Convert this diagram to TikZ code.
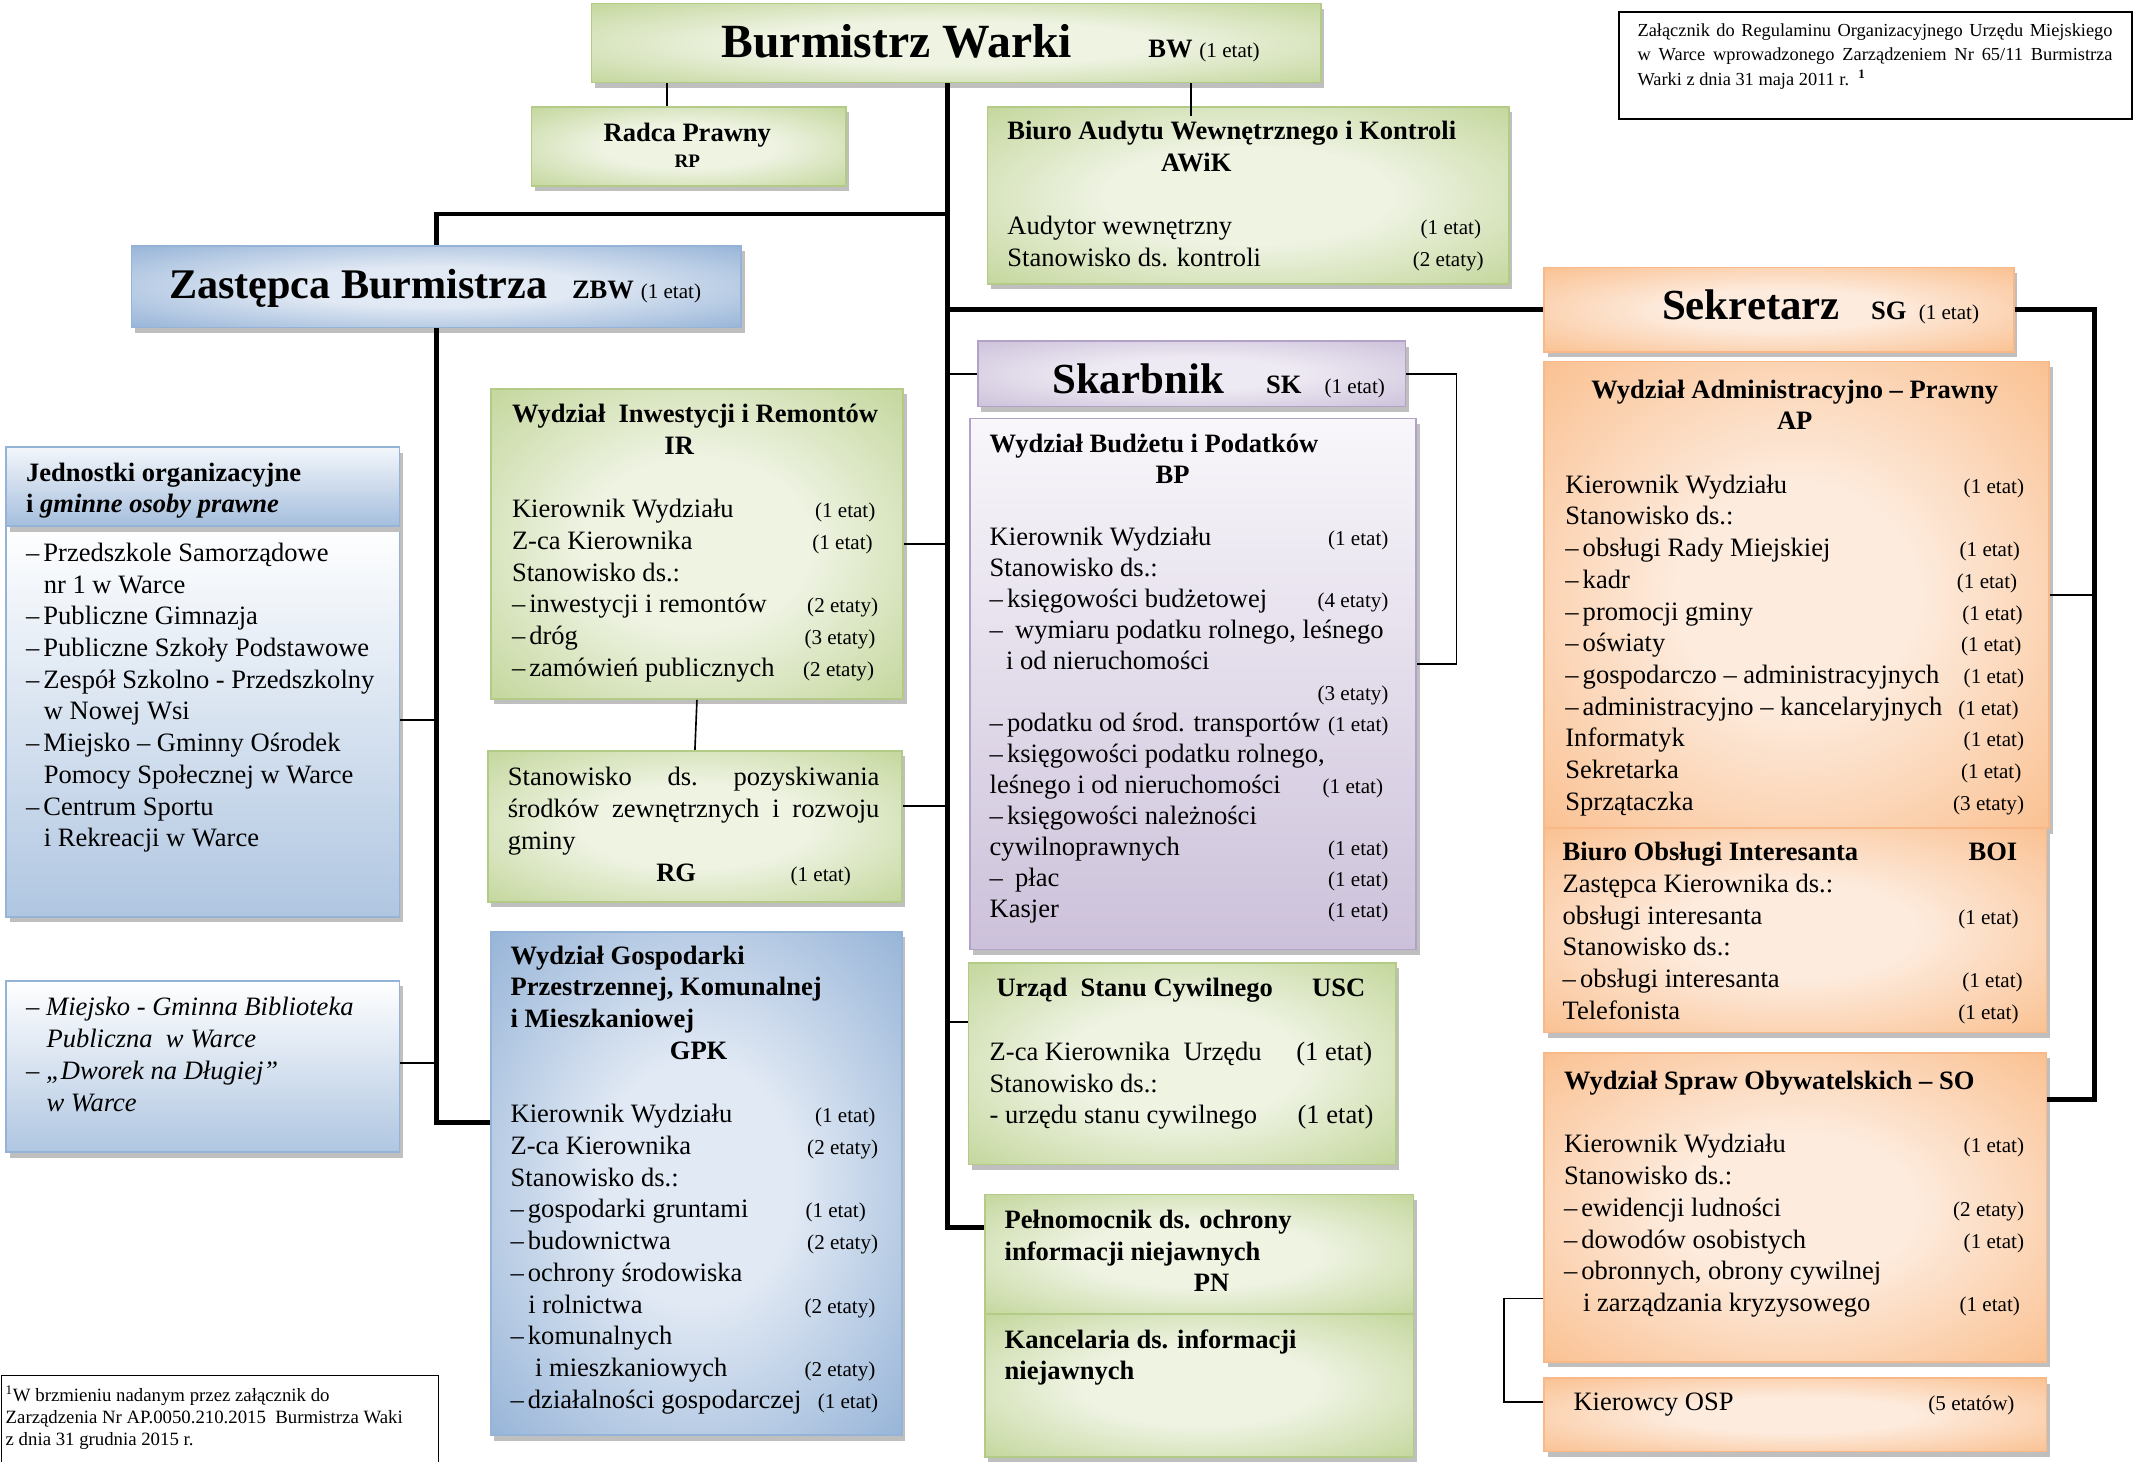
\documentclass[tikz,border=0pt]{standalone}
\usepackage{fontspec}
\setmainfont{Liberation Serif}
\usetikzlibrary{calc,shadows}
\definecolor{gL}{HTML}{EEF3E2}\definecolor{gD}{HTML}{C3D69B}\definecolor{gB}{HTML}{B3CB86}
\definecolor{bL}{HTML}{E1E9F4}\definecolor{bD}{HTML}{95B3D7}\definecolor{bB}{HTML}{95B3D7}
\definecolor{oL}{HTML}{FDEBDD}\definecolor{oD}{HTML}{FAC090}\definecolor{oB}{HTML}{F8B888}
\definecolor{pL}{HTML}{EEEAF3}\definecolor{pD}{HTML}{CCC1DA}\definecolor{pB}{HTML}{B3A2C7}
\pgfdeclareradialshading{gshade}{\pgfpoint{0bp}{0bp}}{color(0bp)=(gL); color(14bp)=(gL); color(36bp)=(gD); color(50bp)=(gD)}
\pgfdeclareradialshading{bshade}{\pgfpoint{0bp}{0bp}}{color(0bp)=(bL); color(12bp)=(bL); color(36bp)=(bD); color(50bp)=(bD)}
\pgfdeclareradialshading{oshade}{\pgfpoint{0bp}{0bp}}{color(0bp)=(oL); color(12bp)=(oL); color(36bp)=(oD); color(50bp)=(oD)}
\pgfdeclareradialshading{pshade}{\pgfpoint{0bp}{0bp}}{color(0bp)=(pL); color(12bp)=(pL); color(36bp)=(pD); color(50bp)=(pD)}
\newlength\rw
\newcommand\setrw[1]{\global\rw=#1pt\relax}
\newcommand\bodyf{\fontsize{19.5}{23.3}\selectfont}
\newcommand\etf{\fontsize{15.5}{18}\selectfont}
\newcommand\erow[2]{\hbox to \rw{\strut#1\hfil{\etf#2}}}
\newcommand\brow[2]{\hbox to \rw{\strut#1\hfil#2}}
\newcommand\frow[1]{\hbox{\strut#1}}
\newcommand\dsh{\textendash\kern3pt}
\newcommand\ind[1]{\hspace*{#1pt}}
\tikzset{
  bx/.style={rectangle, inner sep=0pt, anchor=north west, line width=1.2pt,
    drop shadow={shadow xshift=2.5pt, shadow yshift=-4pt, fill=black!25, opacity=1}},
  gbx/.style={bx, draw=gB, shade, shading=gshade},
  bbx/.style={bx, draw=bB, shade, shading=bshade},
  obx/.style={bx, draw=oB, shade, shading=oshade},
  pbx/.style={bx, draw=pB, shade, shading=pshade},
  vbx/.style={bx, draw=bB, top color=white, bottom color=bD!75!white},
  hbx/.style={bx, draw=bB, top color=bL!40!white, bottom color=bD!85!white},
  vpbx/.style={bx, draw=pB, top color=pL!40!white, bottom color=pD},
  txt/.style={anchor=north west, inner sep=0pt, align=left, font=\bodyf},
  ttl/.style={anchor=base west, inner sep=0pt, font=\bodyf},
  thk/.style={line width=3.5pt},
  thn/.style={line width=1.2pt},
}
\begin{document}
\begin{tikzpicture}[x=1pt,y=-1pt]
\useasboundingbox (0,0) rectangle (1568,1074);
\fill[white] (0,0) rectangle (1568,1074);
% boxes
\node[gbx, minimum width=536pt, minimum height=58pt] (bw) at (434,2) {};
\node[gbx, minimum width=231pt, minimum height=58pt] (rp) at (390,78) {};
\node[gbx, minimum width=383pt, minimum height=130pt] (aw) at (725,78) {};
\node[bbx, minimum width=448pt, minimum height=60pt] (zbw) at (96,180) {};
\node[obx, minimum width=345pt, minimum height=62pt] (sg) at (1134,196) {};
\node[pbx, minimum width=314pt, minimum height=48pt] (sk) at (718,250) {};
\node[gbx, minimum width=303pt, minimum height=228pt] (ir) at (360,285) {};
\node[gbx, minimum width=304pt, minimum height=111pt] (rg) at (358,551) {};
\node[vbx, minimum width=289pt, minimum height=287pt] (jb) at (4,386) {};
\node[hbx, minimum width=289pt, minimum height=58pt] (jh) at (4,328) {};
\node[vbx, minimum width=289pt, minimum height=126pt] (bib) at (4,720) {};
\node[vpbx, minimum width=328pt, minimum height=390pt] (bp) at (712,307) {};
\node[bbx, minimum width=302pt, minimum height=370pt] (gpk) at (360,684) {};
\node[gbx, minimum width=314pt, minimum height=148pt] (usc) at (711,707) {};
\node[gbx, minimum width=315pt, minimum height=88pt] (pn) at (723,877) {};
\node[gbx, minimum width=315pt, minimum height=105pt] (kan) at (723,965) {};
\node[obx, minimum width=371pt, minimum height=343pt] (ap) at (1134,265) {};
\node[obx, minimum width=369pt, minimum height=150pt] (boi) at (1134,608) {};
\node[obx, minimum width=369pt, minimum height=227pt] (so) at (1134,773) {};
\node[obx, minimum width=369pt, minimum height=54pt] (osp) at (1134,1012) {};
\node[draw, line width=1.2pt, anchor=north west, inner sep=0pt, minimum width=377pt, minimum height=79pt] (note) at (1189,8) {};
\node[draw, line width=1.2pt, anchor=north west, inner sep=0pt, minimum width=321pt, minimum height=80pt] (fnb) at (0.6,1010) {};
% connector helper x positions
\coordinate (tx) at (696,0);
\coordinate (sx) at (1538,0);
% connectors
\draw[thn] ($(bw.south west)+(56,0)$) -- ($(rp.north west)+(100,0)$);
\draw[thn] ($(bw.south west)+(441,0)$) -- ($(aw.north west)+(150,7)$);
\draw[thk] (bw.south -| tx) |- ($(pn.north west)+(0,25)$);
\draw[thk] ($(bw.south -| tx)+(0,96)$) -| (zbw.north);
\draw[thk] (sg.west -| tx) -- (sg.west);
\draw[thn] (sk.west -| tx) -- (sk.west);
\draw[thn] (ir.east) -- (ir.east -| tx);
\draw[thn] ($(rg.north east)+(0,41)$) -- ($(rg.north east -| tx)+(0,41)$);
\draw[thn] (ir.south) -- (rg.north);
\draw[thn] ($(usc.north west)+(0,44)$) -- ($(usc.north west -| tx)+(0,44)$);
\draw[thn] (sk.east) -| ($(bp.north east)+(29,181)$) -- ($(bp.north east)+(0,181)$);
\draw[thk] (sg.east) -| ($(so.north east)+(35,35)$) -- ($(so.north east)+(0,35)$);
\draw[thn] (ap.east) -- (ap.east -| sx);
\draw[thn] ($(so.south west)+(0,-47)$) -- ++(-29,0) |- ($(osp.north west)+(0,18)$);
\draw[thk] (zbw.south) |- ($(gpk.north west)+(0,141)$);
\draw[thn] ($(jb.north east)+(0,143)$) -- ($(jb.north east -| zbw.south)+(0,143)$);
\draw[thn] ($(bib.north east)+(0,61)$) -- ($(bib.north east -| zbw.south)+(0,61)$);
% titles
\node[ttl] (bwt) at (530,42) {{\fontsize{35}{40}\selectfont\bfseries Burmistrz Warki}\hspace*{56pt}{\bfseries BW}\hspace*{5pt}{\etf (1 etat)}};
\node[anchor=base, inner sep=0pt, font=\bodyf\bfseries] (rpt) at (505,104) {Radca Prawny};
\node[anchor=base, inner sep=0pt, font=\fontsize{14}{16}\selectfont\bfseries] (rpc) at (505,123) {RP};
\node[ttl] (zbwt) at (124,219) {{\fontsize{31}{36}\selectfont\bfseries Zastępca Burmistrza}\hspace*{18pt}{\bfseries ZBW}\hspace*{5pt}{\etf (1 etat)}};
\node[ttl] (sgt) at (1221,235) {{\fontsize{31.5}{36}\selectfont\bfseries Sekretarz}\hspace*{23pt}{\bfseries SG}\hspace*{9pt}{\etf (1 etat)}};
\node[ttl] (skt) at (773,289) {{\fontsize{31.5}{36}\selectfont\bfseries Skarbnik}\hspace*{31pt}{\bfseries SK}\hspace*{17pt}{\etf (1 etat)}};
% AWiK
\node[txt] (awt) at (740,86) {\setrw{350}\frow{\bfseries Biuro Audytu Wewnętrznego i Kontroli}\\
\frow{\ind{113}\bfseries AWiK}\\ \frow{}\\
\erow{Audytor wewnętrzny}{(1 etat)\ind{2}}\\
\erow{Stanowisko ds. kontroli}{(2 etaty)}};
% IR
\node[txt] (irt) at (376,294) {\setrw{269}\frow{\bfseries Wydział\ \ Inwestycji i Remontów}\\
\frow{\ind{112}\bfseries IR}\\ \frow{}\\
\erow{Kierownik Wydziału}{(1 etat)\ind{2}}\\
\erow{Z-ca Kierownika}{(1 etat)\ind{4}}\\
\erow{Stanowisko ds.:}{}\\
\erow{\dsh inwestycji i remontów}{(2 etaty)}\\
\erow{\dsh dróg}{(3 etaty)\ind{2}}\\
\erow{\dsh zamówień publicznych}{(2 etaty)\ind{3}}};
% RG
\node[txt] (rgt) at (373,561) {\setrw{273}\hbox to\rw{\strut Stanowisko\hfil ds.\hfil pozyskiwania}\\
\hbox to\rw{\strut środków\hfil zewnętrznych\hfil i\hfil rozwoju}\\
\frow{gminy}\\
\hbox to\rw{\strut\ind{109}\textbf{RG}\hfil{\etf (1 etat)}\ind{21}}};
% Jednostki
\node[txt] (jht) at (19,337) {\frow{\bfseries Jednostki organizacyjne}\\ \frow{\bfseries i \textit{gminne osoby prawne}}};
\node[txt] (jbt) at (19,396) {\frow{\dsh Przedszkole Samorządowe}\\
\frow{\ind{13}nr 1 w Warce}\\
\frow{\dsh Publiczne Gimnazja}\\
\frow{\dsh Publiczne Szkoły Podstawowe}\\
\frow{\dsh Zespół Szkolno - Przedszkolny}\\
\frow{\ind{13}w Nowej Wsi}\\
\frow{\dsh Miejsko – Gminny Ośrodek}\\
\frow{\ind{13}Pomocy Społecznej w Warce}\\
\frow{\dsh Centrum Sportu}\\
\frow{\ind{13}i Rekreacji w Warce}};
\node[txt, font=\bodyf\itshape] (bibt) at (19,730) {\frow{\textendash\kern5pt Miejsko - Gminna Biblioteka}\\
\frow{\ind{15}Publiczna\ \ w Warce}\\
\frow{\textendash\kern5pt „Dworek na Długiej”}\\
\frow{\ind{15}w Warce}};
% GPK
\node[txt] (gpkt) at (375,692) {\setrw{270}\frow{\bfseries Wydział Gospodarki}\\
\frow{\bfseries Przestrzennej, Komunalnej}\\
\frow{\bfseries i Mieszkaniowej}\\
\frow{\ind{117}\bfseries GPK}\\ \frow{}\\
\erow{Kierownik Wydziału}{(1 etat)\ind{2}}\\
\erow{Z-ca Kierownika}{(2 etaty)}\\
\erow{Stanowisko ds.:}{}\\
\erow{\dsh gospodarki gruntami}{(1 etat)\ind{9}}\\
\erow{\dsh budownictwa}{(2 etaty)}\\
\erow{\dsh ochrony środowiska}{}\\
\erow{\ind{13}i rolnictwa}{(2 etaty)\ind{2}}\\
\erow{\dsh komunalnych}{}\\
\erow{\ind{18}i mieszkaniowych}{(2 etaty)\ind{2}}\\
\erow{\dsh działalności gospodarczej}{(1 etat)}};
% BP
\node[txt, font=\fontsize{19.5}{22.8}\selectfont] (bpt) at (727,316) {\setrw{293}\frow{\bfseries Wydział Budżetu i Podatków}\\
\frow{\ind{122}\bfseries BP}\\ \frow{}\\
\erow{Kierownik Wydziału}{(1 etat)}\\
\erow{Stanowisko ds.:}{}\\
\erow{\dsh księgowości budżetowej}{(4 etaty)}\\
\erow{\textendash\kern9pt wymiaru podatku rolnego, leśnego}{}\\
\erow{\ind{12}i od nieruchomości}{}\\
\erow{}{(3 etaty)}\\
\erow{\dsh podatku od środ. transportów}{(1 etat)}\\
\erow{\dsh księgowości podatku rolnego,}{}\\
\erow{leśnego i od nieruchomości}{(1 etat)\ind{4}}\\
\erow{\dsh księgowości należności}{}\\
\erow{cywilnoprawnych}{(1 etat)}\\
\erow{\textendash\kern9pt płac}{(1 etat)}\\
\erow{Kasjer}{(1 etat)}};
% USC
\node[txt] (usct) at (727,716) {\setrw{282}\hbox to\rw{\strut\ind{5}\bfseries Urząd\ \ Stanu Cywilnego\hfil USC\ind{6}}\\
\frow{}\\
\brow{Z-ca Kierownika\ \ Urzędu}{(1 etat)\ind{1}}\\
\brow{Stanowisko ds.:}{}\\
\brow{- urzędu stanu cywilnego}{(1 etat)}};
% PN, Kancelaria
\node[txt] (pnt) at (738,886) {\frow{\bfseries Pełnomocnik ds. ochrony}\\ \frow{\bfseries informacji niejawnych}\\ \frow{\ind{139}\bfseries PN}};
\node[txt] (kant) at (738,974) {\frow{\bfseries Kancelaria ds. informacji}\\ \frow{\bfseries niejawnych}};
% AP
\node[txt] (apt) at (1150,276) {\setrw{337}\hbox to\rw{\strut\hfil\bfseries Wydział Administracyjno – Prawny\hfil}\\
\hbox to\rw{\strut\hfil\bfseries AP\hfil}\\ \frow{}\\
\erow{Kierownik Wydziału}{(1 etat)}\\
\erow{Stanowisko ds.:}{}\\
\erow{\dsh obsługi Rady Miejskiej}{(1 etat)\ind{3}}\\
\erow{\dsh kadr}{(1 etat)\ind{5}}\\
\erow{\dsh promocji gminy}{(1 etat)\ind{1}}\\
\erow{\dsh oświaty}{(1 etat)\ind{2}}\\
\erow{\dsh gospodarczo – administracyjnych}{(1 etat)}\\
\erow{\dsh administracyjno – kancelaryjnych}{(1 etat)\ind{4}}\\
\erow{Informatyk}{(1 etat)}\\
\erow{Sekretarka}{(1 etat)\ind{2}}\\
\erow{Sprzątaczka}{(3 etaty)}};
% BOI
\node[txt] (boit) at (1148,616) {\setrw{338}\hbox to\rw{\strut\bfseries Biuro Obsługi Interesanta\hfil BOI\ind{4}}\\
\erow{Zastępca Kierownika ds.:}{}\\
\erow{obsługi interesanta}{(1 etat)\ind{3}}\\
\erow{Stanowisko ds.:}{}\\
\erow{\dsh obsługi interesanta}{(1 etat)}\\
\erow{Telefonista}{(1 etat)\ind{3}}};
% SO
\node[txt] (sot) at (1149,784) {\setrw{338}\frow{\bfseries Wydział Spraw Obywatelskich – SO}\\
\frow{}\\
\erow{Kierownik Wydziału}{(1 etat)}\\
\erow{Stanowisko ds.:}{}\\
\erow{\dsh ewidencji ludności}{(2 etaty)}\\
\erow{\dsh dowodów osobistych}{(1 etat)}\\
\erow{\dsh obronnych, obrony cywilnej}{}\\
\erow{\ind{14}i zarządzania kryzysowego}{(1 etat)\ind{3}}};
% OSP
\node[txt] (ospt) at (1156,1020) {\setrw{324}\erow{Kierowcy OSP}{(5 etatów)}};
% notes
\node[txt, font=\fontsize{13.5}{18}\selectfont] (notet) at (1203,14) {\hbox to 349pt{\strut\spaceskip=.25em plus 1fil Załącznik do Regulaminu Organizacyjnego Urzędu Miejskiego}\\
\hbox to 349pt{\strut\spaceskip=.25em plus 1fil w Warce wprowadzonego Zarządzeniem Nr 65/11 Burmistrza}\\
\frow{Warki z dnia 31 maja 2011 r.\ \ \textsuperscript{\bfseries 1}}};
\node[txt, font=\fontsize{13.8}{16.2}\selectfont] (fnt) at (4,1018) {\frow{\textsuperscript{1}W brzmieniu nadanym przez załącznik do}\\
\frow{Zarządzenia Nr AP.0050.210.2015\ \ Burmistrza Waki}\\
\frow{z dnia 31 grudnia 2015 r.}};
\end{tikzpicture}
\end{document}
